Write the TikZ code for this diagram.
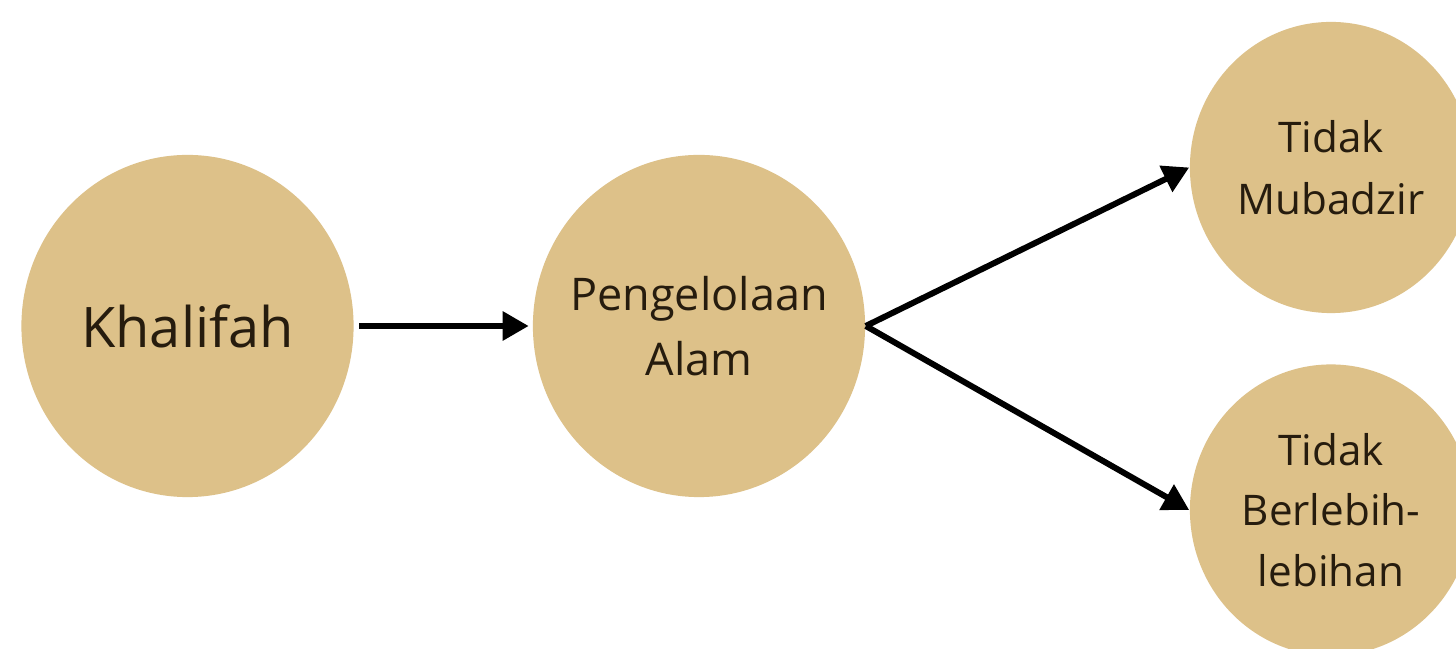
\documentclass[tikz,border=0pt]{standalone}
\usepackage{fontspec}
\setmainfont{Open Sans}
\usetikzlibrary{shapes.geometric,arrows.meta}
\definecolor{tan}{RGB}{221,193,137}
\definecolor{ink}{RGB}{38,28,14}
\begin{document}
\begin{tikzpicture}[x=0.01cm,y=-0.01cm,
  bubble/.style={ellipse,fill=tan,draw=none,inner sep=0pt},
  big/.style={bubble,minimum width=3.32cm,minimum height=3.42cm},
  small/.style={bubble,minimum width=2.82cm,minimum height=2.91cm},
  caption/.style={text=ink,align=center,inner sep=0pt},
  link/.style={line width=1.7pt,-{Triangle[length=2.6mm,width=2.8mm]}}]
\clip (0,0) rectangle (1456,649);
\fill[white] (0,0) rectangle (1456,649);
% bubbles with their texts set at the centre
\node[big,label={[caption,font=\fontsize{15.9}{19}\selectfont]center:Khalifah}] (khal) at (187.5,326) {};
\node[big,label={[caption,font=\fontsize{12.8}{18.5}\selectfont]center:Pengelolaan\\Alam}] (alam) at (699,326) {};
\node[small,label={[caption,font=\fontsize{12}{17.6}\selectfont]center:Tidak\\Mubadzir}] (mub) at (1331,167.5) {};
\node[small,label={[caption,font=\fontsize{12}{17.2}\selectfont]center:Tidak\\Berlebih-\\lebihan}] (leb) at (1331,510) {};
% connectors
\draw[link,shorten >=1pt] (khal.east) ++(5,0) -- (alam.west);
\draw[link] (alam.east) -- (mub.west);
\draw[link] (alam.east) -- (leb.west);
\end{tikzpicture}
\end{document}
